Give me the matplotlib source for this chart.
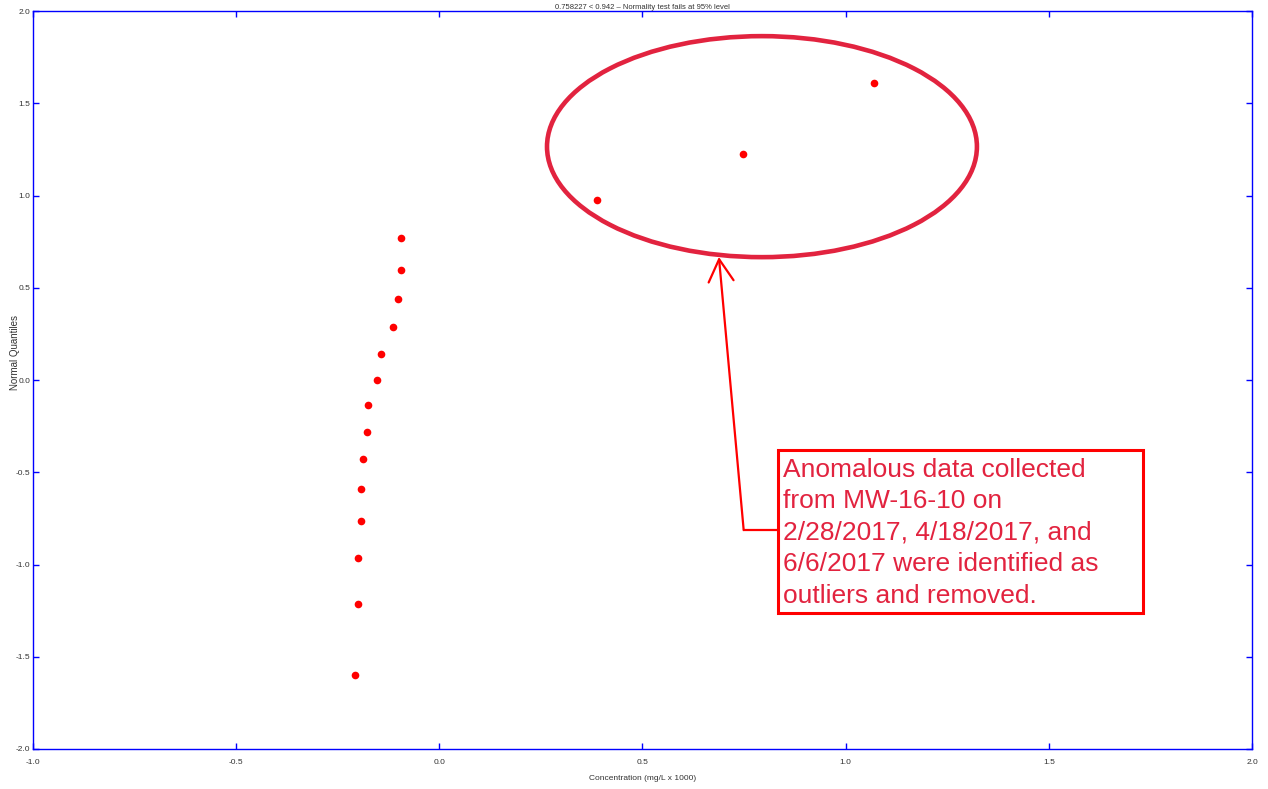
import matplotlib
matplotlib.use("Agg")
import matplotlib.pyplot as plt
from matplotlib.patches import Ellipse, Rectangle

plt.rcParams['font.family'] = ['Liberation Sans Narrow', 'Liberation Sans', 'DejaVu Sans']

# normal quantile plot values
conc = [-0.208, -0.200, -0.200, -0.193, -0.193, -0.188, -0.178, -0.176,
        -0.153, -0.144, -0.114, -0.102, -0.094, -0.094,
        0.388, 0.747, 1.070]
quantiles = [-1.599, -1.214, -0.965, -0.764, -0.591, -0.428, -0.282, -0.136,
             0.0, 0.141, 0.287, 0.439, 0.596, 0.770,
             0.976, 1.225, 1.610]
xticks = [-1.0, -0.5, 0.0, 0.5, 1.0, 1.5, 2.0]
yticks = [-2.0, -1.5, -1.0, -0.5, 0.0, 0.5, 1.0, 1.5, 2.0]

title = "0.758227 < 0.942 \u2013 Normality test fails at 95% level"
note = ("Anomalous data collected\nfrom MW-16-10 on\n2/28/2017, 4/18/2017, and\n"
        "6/6/2017 were identified as\noutliers and removed.")

fig = plt.figure(figsize=(12.68, 7.89), dpi=100)
ax = fig.add_axes([0.026, 0.0507, 0.9614, 0.9353])

ax.plot(conc, quantiles, 'o', color='red', markersize=5.5, markeredgewidth=0)

ax.set_xlim(-1, 2)
ax.set_ylim(-2, 2)
ax.set_xticks(xticks)
ax.set_yticks(yticks)
ax.set_xticklabels(['%.1f' % v for v in xticks])
ax.set_yticklabels(['%.1f' % v for v in yticks])
for s in ax.spines.values():
    s.set_color('blue')
    s.set_linewidth(1)
ax.tick_params(direction='in', length=4, width=1, color='blue', labelsize=6,
               labelcolor='#333333', top=True, right=True)
ax.tick_params(axis='x', pad=7)
ax.tick_params(axis='y', pad=2)
ax.set_xlabel('Concentration (mg/L x 1000)', fontsize=6, color='#333333', labelpad=6.5)
fig.text(15 / 1268, 1 - 353 / 789, 'Normal Quantiles', fontsize=7, color='#333333',
         rotation=90, ha='center', va='center')
ax.set_title(title, fontsize=5.5, color='#333333', pad=1.5)

crimson = '#E2233F'
ax.add_patch(Ellipse((0.794, 1.265), 1.058, 1.198, fill=False,
                     edgecolor=crimson, linewidth=3.3))

# callout box and arrow
ax.add_patch(Rectangle((0.834, -1.263), 0.898, 0.884, fill=False,
                       edgecolor='red', linewidth=2.2))
ax.text(0.845, -0.42, note, color=crimson, fontsize=19, va='top', ha='left',
        family=['Liberation Sans', 'DejaVu Sans'], linespacing=1.40)
ax.plot([0.749, 0.834], [-0.813, -0.813], color='red', linewidth=1.6)
ax.annotate('', xy=(0.688, 0.667), xytext=(0.749, -0.813),
            arrowprops=dict(arrowstyle='->,head_length=0.8,head_width=0.45',
                            color='red', linewidth=1.6, mutation_scale=20,
                            shrinkA=0, shrinkB=0))

fig.savefig('out.png', dpi=100)
